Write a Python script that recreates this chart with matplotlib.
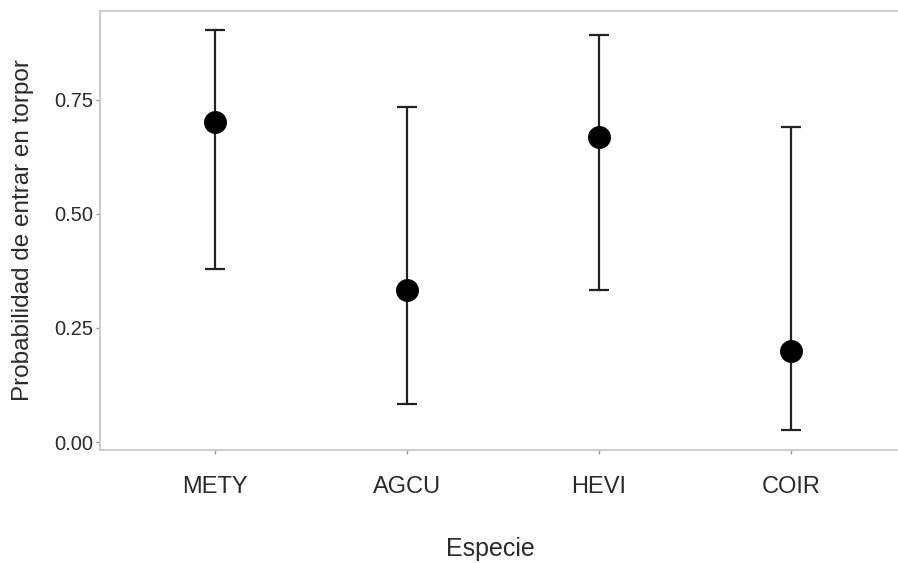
import numpy as np
import matplotlib.pyplot as plt

plt.rcParams['font.family'] = ['Liberation Sans', 'DejaVu Sans']

especies = ['METY', 'AGCU', 'HEVI', 'COIR']
prob = [0.702, 0.333, 0.669, 0.200]
ic_inf = [0.379, 0.083, 0.333, 0.026]
ic_sup = [0.904, 0.735, 0.893, 0.691]

W, H = 898, 563
fig = plt.figure(figsize=(W / 100, H / 100), dpi=100)
# axes box in pixels: left 100, right 906 (cut by the image edge), top 11, bottom 450
ax = fig.add_axes([100 / W, (H - 450) / H, (906 - 100) / W, (450 - 11) / H])

x = np.arange(1, len(especies) + 1)
prob = np.array(prob)
yerr = [prob - np.array(ic_inf), np.array(ic_sup) - prob]
ax.errorbar(x, prob, yerr=yerr, fmt='o', color='black', ecolor='#222222',
            elinewidth=1.6, capsize=7, capthick=1.6, markersize=15.5, zorder=3)

ax.set_xlim(0.4, 4.6)
ax.set_ylim(-0.0175, 0.945)
ax.set_xticks(x)
ax.set_xticklabels(especies)
ax.set_yticks([0, 0.25, 0.5, 0.75])
ax.set_yticklabels(['0.00', '0.25', '0.50', '0.75'])

for s in ['left', 'bottom', 'top']:
    ax.spines[s].set_color('#c8c8c8')
    ax.spines[s].set_linewidth(1.3)
ax.spines['right'].set_visible(False)

ax.tick_params(axis='x', labelsize=17, colors='#999999', labelcolor='#2b2b2b',
               length=3, width=1, pad=16)
ax.tick_params(axis='y', labelsize=14.5, colors='#999999', labelcolor='#2b2b2b',
               length=3, width=1, pad=2)

ax.set_xlabel('Especie', fontsize=18, color='#2b2b2b')
ax.xaxis.set_label_coords(0.484, -0.198)
ax.set_ylabel('Probabilidad de entrar en torpor', fontsize=17.5, color='#2b2b2b')
ax.yaxis.set_label_coords(-0.082, 0.5)

fig.savefig('out.png', dpi=100)
